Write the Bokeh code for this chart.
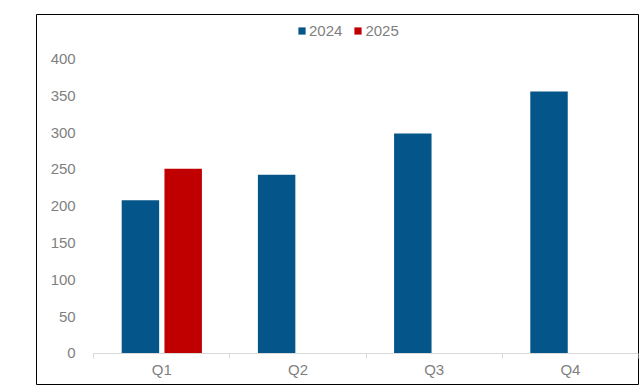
from bokeh.plotting import figure
from bokeh.models import FixedTicker, Legend, LegendItem, Range1d
from bokeh.embed import file_html
from bokeh.resources import INLINE

# ---- data ----
categories = ["Q1", "Q2", "Q3", "Q4"]
series_2024 = [208, 243, 299, 356]
series_2025 = [251]
y_ticks = [0, 50, 100, 150, 200, 250, 300, 350, 400]

BLUE = "#04558a"
RED = "#c00000"
GREY = "#7f7f7f"
FONT = "Liberation Sans"

bar_w = 0.275
off = 0.157

p = figure(width=644, height=392, output_backend="svg", toolbar_location=None,
           x_range=Range1d(-0.42, 4.0), y_range=Range1d(-42.43, 460.8),
           min_border_left=36, min_border_right=6, min_border_top=14, min_border_bottom=8)
p.background_fill_color = "white"
p.border_fill_color = "white"
p.outline_line_color = "black"
p.outline_line_width = 1
p.grid.visible = False

x24 = [i + 0.5 - off for i in range(len(series_2024))]
x25 = [i + 0.5 + off for i in range(len(series_2025))]
r24 = p.vbar(x=x24, top=series_2024, bottom=0, width=bar_w, fill_color=BLUE, line_color=None)
r25 = p.vbar(x=x25, top=series_2025, bottom=0, width=bar_w, fill_color=RED, line_color=None)

# x axis (at y = 0, inside the border)
xa = p.xaxis[0]
xa.fixed_location = 0
xa.bounds = (0, len(categories))
xa.ticker = FixedTicker(ticks=[i + 0.5 for i in range(len(categories))],
                        minor_ticks=list(range(len(categories) + 1)))
xa.major_label_overrides = {i + 0.5: c for i, c in enumerate(categories)}
xa.axis_line_color = "#d9d9d9"
xa.axis_line_width = 1
xa.major_tick_line_color = None
xa.major_tick_in = 0
xa.major_tick_out = 0
xa.minor_tick_line_color = "#d9d9d9"
xa.minor_tick_in = 0
xa.minor_tick_out = 5
xa.major_label_standoff = 3
xa.major_label_text_font = FONT
xa.major_label_text_font_size = "15px"
xa.major_label_text_color = GREY

# y axis (at x = 0, inside the border)
ya = p.yaxis[0]
ya.fixed_location = 0
ya.ticker = FixedTicker(ticks=y_ticks)
ya.axis_line_color = None
ya.major_tick_line_color = None
ya.minor_tick_line_color = None
ya.major_tick_in = 0
ya.major_tick_out = 0
ya.minor_tick_in = 0
ya.minor_tick_out = 0
ya.major_label_standoff = 18
ya.major_label_text_font = FONT
ya.major_label_text_font_size = "15px"
ya.major_label_text_color = GREY

legend = Legend(items=[LegendItem(label="2024", renderers=[r24]),
                       LegendItem(label="2025", renderers=[r25])],
                orientation="horizontal", location=(261, 345),
                glyph_width=9, glyph_height=9, label_standoff=3, spacing=11,
                padding=0, margin=0, border_line_color=None, background_fill_alpha=0,
                label_text_font=FONT, label_text_font_size="15px", label_text_color=GREY,
                label_height=9)
p.add_layout(legend)

open("out.html", "w").write(file_html(p, INLINE))
